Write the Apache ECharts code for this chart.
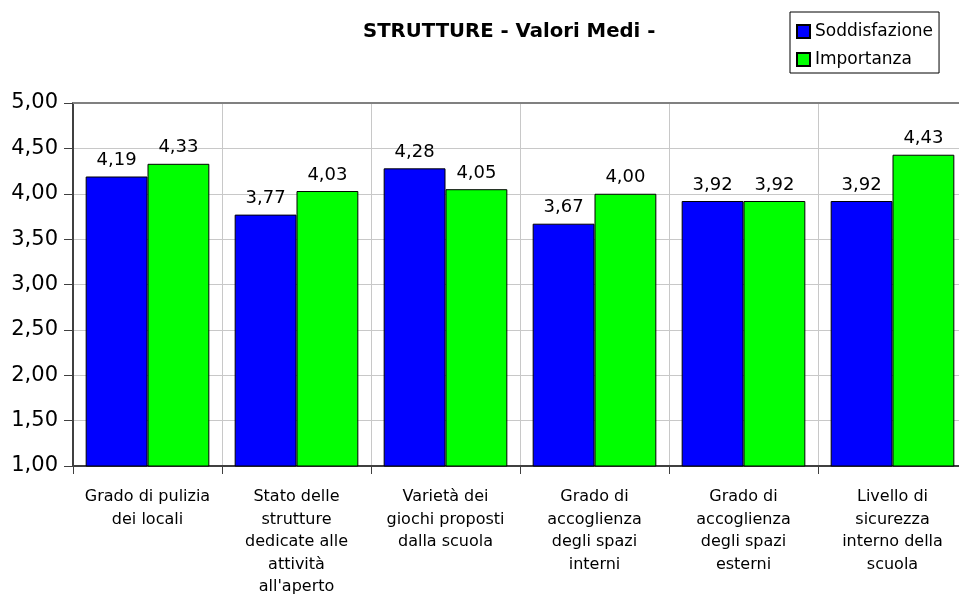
<!DOCTYPE html>
<html>
<head>
<meta charset="utf-8">
<script src="https://cdn.jsdelivr.net/npm/echarts@6/dist/echarts.min.js"></script>
<style>html,body{margin:0;padding:0;background:#fff;overflow:hidden;}#c{width:967px;height:610px;}</style>
</head>
<body>
<div id="c"></div>
<script>
const categories = [
  "Grado di pulizia\ndei locali",
  "Stato delle\nstrutture\ndedicate alle\nattività\nall'aperto",
  "Varietà dei\ngiochi proposti\ndalla scuola",
  "Grado di\naccoglienza\ndegli spazi\ninterni",
  "Grado di\naccoglienza\ndegli spazi\nesterni",
  "Livello di\nsicurezza\ninterno della\nscuola"
];
const soddisfazione = [4.19, 3.77, 4.28, 3.67, 3.92, 3.92];
const importanza = [4.33, 4.03, 4.05, 4.00, 3.92, 4.43];
const yTicks = [1, 1.5, 2, 2.5, 3, 3.5, 4, 4.5, 5];

const fmt = v => v.toFixed(2).replace('.', ',');
const FONT = 'DejaVu Sans';
const chart = echarts.init(document.getElementById('c'), null, {renderer: 'canvas'});
const valueLabel = {
  show: true, position: 'top', distance: 7, color: '#000', fontFamily: FONT, fontSize: 18,
  formatter: p => fmt(p.value)
};
chart.setOption({
  animation: false,
  backgroundColor: '#fff',
  title: {
    text: 'STRUTTURE - Valori Medi -',
    left: 358, top: 17,
    textStyle: {fontFamily: FONT, fontWeight: 'bold', fontSize: 19.7, color: '#000'}
  },
  legend: {
    orient: 'vertical',
    left: 790, top: 12,
    padding: [11, 6, 5, 6],
    borderColor: '#000', borderWidth: 1,
    itemWidth: 13, itemHeight: 13, itemGap: 11,
    icon: 'rect',
    textStyle: {fontFamily: FONT, fontSize: 17, color: '#000', padding: [0, 0, 0, 0]},
    data: ['Soddisfazione', 'Importanza']
  },
  grid: {left: 73, top: 103, bottom: 144, right: 0, containLabel: false},
  xAxis: {
    type: 'category',
    data: categories,
    axisLine: {lineStyle: {color: '#404040', width: 2}},
    axisTick: {show: true, length: 8, lineStyle: {color: '#404040'}},
    axisLabel: {interval: 0, color: '#000', fontFamily: FONT, fontSize: 16, lineHeight: 22.5, margin: 20, align: 'center'},
    splitLine: {show: true, lineStyle: {color: '#c8c8c8', width: 1}}
  },
  yAxis: {
    type: 'value',
    min: 1, max: 5, interval: 0.5,
    axisLine: {show: true, lineStyle: {color: '#404040', width: 2}},
    axisTick: {show: true, length: 9, lineStyle: {color: '#404040'}},
    axisLabel: {color: '#000', fontFamily: FONT, fontSize: 21, margin: 15,
      formatter: v => yTicks.includes(v) ? fmt(v) : ''},
    splitLine: {show: true, lineStyle: {color: '#c8c8c8', width: 1}}
  },
  series: [
    {
      name: 'Soddisfazione', type: 'bar', data: soddisfazione,
      barGap: '0%', barCategoryGap: '17%',
      itemStyle: {color: '#0000ff', borderColor: '#000', borderWidth: 1},
      label: valueLabel
    },
    {
      name: 'Importanza', type: 'bar', data: importanza,
      barGap: '0%', barCategoryGap: '17%',
      itemStyle: {color: '#00ff00', borderColor: '#000', borderWidth: 1},
      label: valueLabel
    }
  ],
  graphic: [{
    type: 'line', silent: true, z: 100,
    shape: {x1: 73, y1: 103, x2: 967, y2: 103},
    style: {stroke: '#808080', lineWidth: 2}
  }]
});
</script>
</body>
</html>
